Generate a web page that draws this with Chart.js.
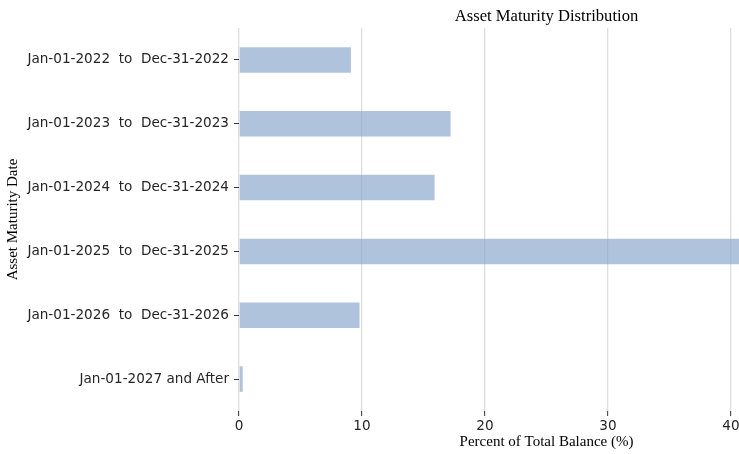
<!DOCTYPE html>
<html>
<head>
<meta charset="utf-8">
<script src="https://cdn.jsdelivr.net/npm/chart.js@4/dist/chart.umd.min.js"></script>
<style>
  html, body { margin: 0; padding: 0; overflow: hidden; background: #fff; }
  #wrap { width: 870px; height: 454px; }
</style>
</head>
<body>
<div id="wrap"><canvas id="myChart" width="870" height="454"></canvas></div>
<script>
const categories = [
    'Jan-01-2022  to  Dec-31-2022',
    'Jan-01-2023  to  Dec-31-2023',
    'Jan-01-2024  to  Dec-31-2024',
    'Jan-01-2025  to  Dec-31-2025',
    'Jan-01-2026  to  Dec-31-2026',
    'Jan-01-2027 and After'
];
const balancePct = [9.1, 17.2, 15.9, 47.7, 9.8, 0.3];
const xTicks = [0, 10, 20, 30, 40, 50];

const serif = '"Liberation Serif", "Times New Roman", serif';
const sans = '"DejaVu Sans", sans-serif';

// title centred over the plot area, like the original axes title
const plotTitle = {
    id: 'plotTitle',
    afterDraw(chart) {
        const { ctx, chartArea } = chart;
        ctx.save();
        ctx.font = '16.6px ' + serif;
        ctx.fillStyle = '#000';
        ctx.textAlign = 'center';
        ctx.textBaseline = 'middle';
        ctx.fillText('Asset Maturity Distribution', (chartArea.left + chartArea.right) / 2, 17);
        ctx.restore();
    }
};

const ctx = document.getElementById('myChart').getContext('2d');
const myChart = new Chart(ctx, {
    type: 'bar',
    data: {
        labels: categories,
        datasets: [{
            data: balancePct,
            backgroundColor: 'rgba(137, 167, 205, 0.68)',
            borderWidth: 0,
            barPercentage: 0.4,
            categoryPercentage: 1.0
        }]
    },
    options: {
        indexAxis: 'y',
        responsive: false,
        animation: false,
        layout: { padding: { top: 28, right: 16, left: 0, bottom: 0 } },
        plugins: {
            legend: { display: false },
            tooltip: { enabled: false }
        },
        scales: {
            x: {
                min: 0,
                max: 50,
                afterBuildTicks: (scale) => { scale.ticks = xTicks.map(v => ({ value: v })); },
                afterFit: (scale) => { scale.height = 43; },
                border: { display: false },
                grid: { color: '#dedede', lineWidth: 1.3, tickLength: 5, tickColor: '#333', tickWidth: 1 },
                ticks: { color: '#262626', font: { family: sans, size: 13.6 }, padding: 2, maxRotation: 0 },
                title: {
                    display: true,
                    text: 'Percent of Total Balance (%)',
                    color: '#000',
                    font: { family: serif, size: 15 },
                    padding: { top: 0, bottom: 3 }
                }
            },
            y: {
                afterFit: (scale) => { scale.width = 239; },
                border: { display: false },
                grid: { offset: false, drawOnChartArea: false, tickLength: 5, tickColor: '#333', tickWidth: 1 },
                ticks: { color: '#262626', font: { family: sans, size: 13.6 }, padding: 5 },
                title: {
                    display: true,
                    text: 'Asset Maturity Date',
                    color: '#000',
                    font: { family: serif, size: 15 },
                    padding: { top: 4, bottom: 0 }
                }
            }
        }
    },
    plugins: [plotTitle]
});
</script>
</body>
</html>
